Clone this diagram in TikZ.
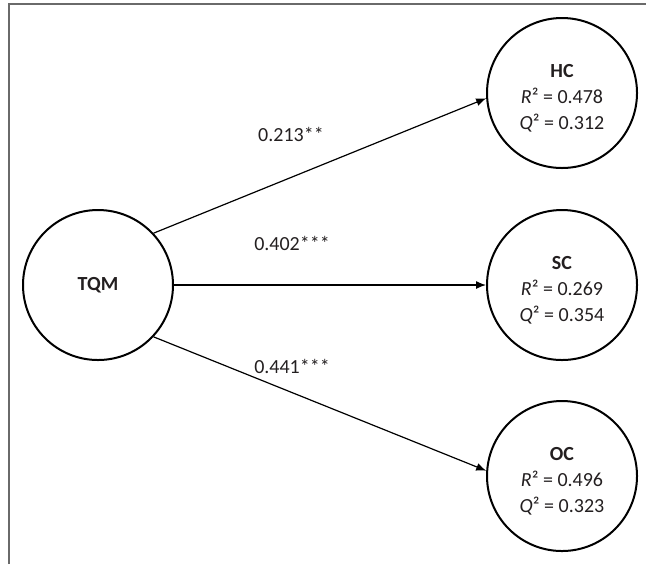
\documentclass[tikz,border=0pt]{standalone}
\usepackage{fontspec}
\setmainfont{Carlito}
\usetikzlibrary{arrows.meta}
\definecolor{txt}{HTML}{231F20}
\definecolor{frame}{HTML}{6A6A6A}
\begin{document}
\begin{tikzpicture}[x=0.5pt, y=-0.5pt, font=\fontsize{10}{13}\selectfont,
  latent/.style={draw, circle, line width=1pt, minimum size=75pt, inner sep=0pt, align=center, text=txt},
  effect/.style={-{Latex[length=5pt,width=4pt]}, line width=0.6pt},
  coef/.style={text=txt}]
  \useasboundingbox (0,0) rectangle (646,564);
  % frame, only left and top edge show
  \draw[frame, line width=0.75pt] (9,564) -- (9,4) -- (646,4);

  % constructs (strut pushes the stats a bit below centre)
  \node[latent] (tqm) at (98,285) {\textbf{TQM}};
  \node[latent] (hc) at (562,93) {\rule{0pt}{12pt}\textbf{HC}\\ \textit{R}² = 0.478\\ \textit{Q}² = 0.312};
  \node[latent] (sc) at (562,285) {\rule{0pt}{12pt}\textbf{SC}\\ \textit{R}² = 0.269\\ \textit{Q}² = 0.354};
  \node[latent] (oc) at (562,476) {\rule{0pt}{12pt}\textbf{OC}\\ \textit{R}² = 0.496\\ \textit{Q}² = 0.323};

  % structural paths
  \draw[effect] (tqm.43) -- (hc.184);
  \draw[effect] (tqm.east) -- (sc.west);
  \draw[effect] (tqm.-43) -- (oc.176);

  % path coefficients
  \node[coef] (b1) at (291,134) {0.213**};
  \node[coef] (b2) at (292,243) {0.402***};
  \node[coef] (b3) at (292,366) {0.441***};
\end{tikzpicture}
\end{document}
